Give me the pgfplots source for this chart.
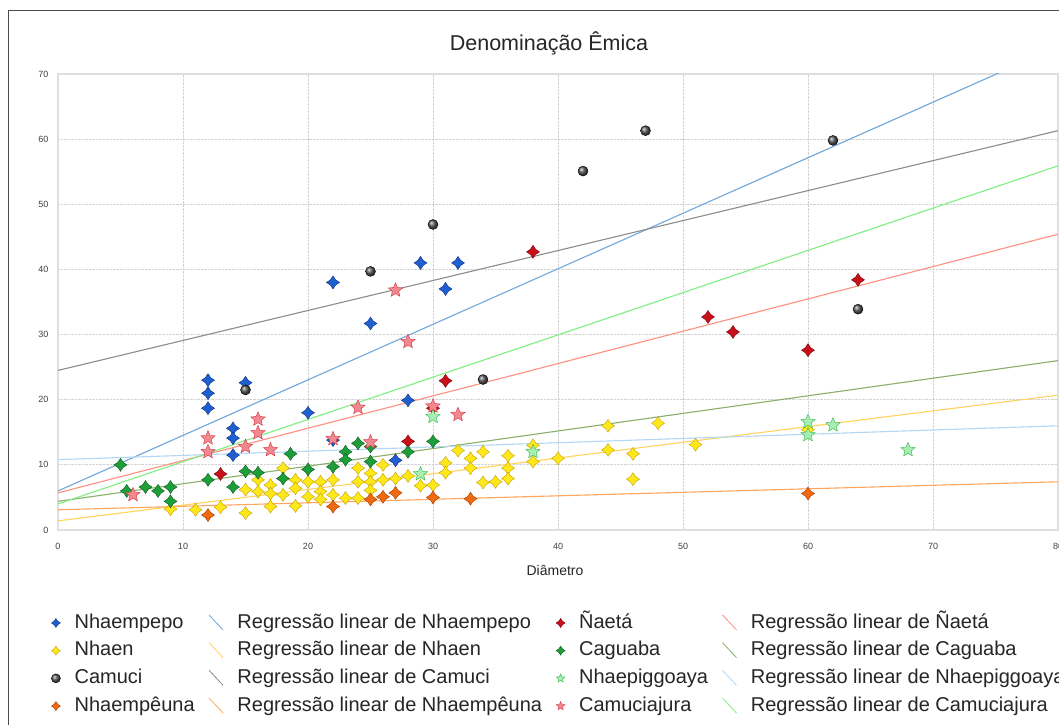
\documentclass[border=0pt]{standalone}
\usepackage{fontspec}
\setmainfont{Liberation Sans}
\usepackage{pgfplots}
\pgfplotsset{compat=1.18}
\usetikzlibrary{plotmarks}

\definecolor{cNp}{HTML}{1F5FD0}\definecolor{dNp}{HTML}{0A2F80}
\definecolor{cNa}{HTML}{C8101A}\definecolor{dNa}{HTML}{7A0008}
\definecolor{cNh}{HTML}{FFE81A}\definecolor{dNh}{HTML}{C8A000}
\definecolor{cCg}{HTML}{1E9E3A}\definecolor{dCg}{HTML}{0B5A1A}
\definecolor{cNg}{HTML}{A8EDB2}\definecolor{dNg}{HTML}{2FB84A}
\definecolor{cNu}{HTML}{F26A10}\definecolor{dNu}{HTML}{A03A00}
\definecolor{cCj}{HTML}{F08A90}\definecolor{dCj}{HTML}{D83040}
\definecolor{rNp}{HTML}{6FA8DC}
\definecolor{rNa}{HTML}{FF9080}
\definecolor{rNh}{HTML}{FFD35C}
\definecolor{rCg}{HTML}{8AAF6A}
\definecolor{rCm}{HTML}{8C8C8C}
\definecolor{rNg}{HTML}{B3D7F5}
\definecolor{rNu}{HTML}{FFA55C}
\definecolor{rCj}{HTML}{80EE80}

\pgfdeclareplotmark{fourstar}{%
  \pgfpathmoveto{\pgfqpoint{0pt}{\pgfplotmarksize}}%
  \pgfpathlineto{\pgfqpoint{0.4\pgfplotmarksize}{0.4\pgfplotmarksize}}%
  \pgfpathlineto{\pgfqpoint{\pgfplotmarksize}{0pt}}%
  \pgfpathlineto{\pgfqpoint{0.4\pgfplotmarksize}{-0.4\pgfplotmarksize}}%
  \pgfpathlineto{\pgfqpoint{0pt}{-\pgfplotmarksize}}%
  \pgfpathlineto{\pgfqpoint{-0.4\pgfplotmarksize}{-0.4\pgfplotmarksize}}%
  \pgfpathlineto{\pgfqpoint{-\pgfplotmarksize}{0pt}}%
  \pgfpathlineto{\pgfqpoint{-0.4\pgfplotmarksize}{0.4\pgfplotmarksize}}%
  \pgfpathclose
  \pgfusepathqfillstroke
}
\pgfdeclareplotmark{fivestar}{%
  \pgfpathmoveto{\pgfpointpolar{90}{\pgfplotmarksize}}%
  \pgfpathlineto{\pgfpointpolar{126}{0.45*\pgfplotmarksize}}%
  \pgfpathlineto{\pgfpointpolar{162}{\pgfplotmarksize}}%
  \pgfpathlineto{\pgfpointpolar{198}{0.45*\pgfplotmarksize}}%
  \pgfpathlineto{\pgfpointpolar{234}{\pgfplotmarksize}}%
  \pgfpathlineto{\pgfpointpolar{270}{0.45*\pgfplotmarksize}}%
  \pgfpathlineto{\pgfpointpolar{306}{\pgfplotmarksize}}%
  \pgfpathlineto{\pgfpointpolar{342}{0.45*\pgfplotmarksize}}%
  \pgfpathlineto{\pgfpointpolar{18}{\pgfplotmarksize}}%
  \pgfpathlineto{\pgfpointpolar{54}{0.45*\pgfplotmarksize}}%
  \pgfpathclose
  \pgfusepathqfillstroke
}

\pgfplotsset{
  regline/.style={no markers, line width=1.1pt,
    legend image code/.code={\draw[##1, line width=0.8pt] (0pt,8pt) -- (14pt,-7pt);}},
  dia/.style={only marks, mark=fourstar, mark size=6.5pt, mark options={line width=0.6pt}},
  stars/.style={only marks, mark=fivestar, mark size=7.5pt, mark options={line width=1pt}},
}

\begin{document}
\begin{tikzpicture}
\useasboundingbox (0,0) rectangle (1059pt,724pt);
\clip (0,0) rectangle (1059pt,724pt);
\fill[white] (0,0) rectangle (1059pt,724pt);
\draw[black!70, line width=1pt] (8pt,713pt) rectangle (1120pt,-40pt);
\begin{axis}[
  at={(58pt,194pt)}, anchor=south west,
  scale only axis, width=1000pt, height=456pt,
  xmin=0, xmax=80, ymin=0, ymax=70,
  xtick={0,10,...,80}, ytick={0,10,...,70},
  grid=major,
  major grid style={gray!35, densely dotted, line width=0.9pt},
  axis line style={gray!25, line width=1.5pt},
  tick style={draw=none},
  /pgf/number format/assume math mode=true,
  ticklabel style={font=\fontsize{9}{10}\selectfont, text=black!75},
  xticklabel style={anchor=base, yshift=-19pt},
  yticklabel style={xshift=-6pt},
  title={Denominação Êmica},
  title style={at={(0.491,1)}, anchor=base, yshift=17pt,
    font=\fontsize{21.5}{24}\selectfont, text=black!85},
  xlabel={Diâmetro},
  xlabel style={at={(0.497,0)}, anchor=base, yshift=-45pt,
    font=\fontsize{14}{16}\selectfont, text=black!85},
  legend columns=4,
  legend cell align=left,
  legend image post style={mark size=4.5pt},
  legend style={at={(-0.010,-0.1733)}, anchor=north west, draw=none, fill=none,
    font=\fontsize{20}{24}\selectfont, text=black!85,
    column sep=12pt, row sep=4.2pt, inner xsep=3pt, inner ysep=2pt,
    nodes={inner sep=2pt, text height=15pt, text depth=4.5pt}},
]
% regression lines (drawn first, below the markers)
\addplot[regline, draw=rNp, forget plot] coordinates {(0,6.0) (80,74.2)};
\addplot[regline, draw=rNa, forget plot] coordinates {(0,5.7) (80,45.4)};
\addplot[regline, draw=rNh, forget plot] coordinates {(0,1.4) (80,20.7)};
\addplot[regline, draw=rCg, forget plot] coordinates {(0,4.4) (80,26.0)};
\addplot[regline, draw=rCm, forget plot] coordinates {(0,24.5) (80,61.3)};
\addplot[regline, draw=rNg, forget plot] coordinates {(0,10.8) (80,16.0)};
\addplot[regline, draw=rNu, forget plot] coordinates {(0,3.1) (80,7.4)};
\addplot[regline, draw=rCj, forget plot] coordinates {(0,4.0) (80,55.9)};

% Nhaempepo
\addplot[dia, mark options={fill=cNp, draw=dNp}] coordinates {
(12,23) (12,21) (12,18.7) (14,15.6) (14,14.1) (14,11.5) (15,22.6)
(20,18) (22,13.8) (22,38) (25,31.7) (27,10.7) (28,19.9) (29,41) (31,37) (32,41)};
\addlegendentry{Nhaempepo}
\addlegendimage{regline, draw=rNp}
\addlegendentry{Regressão linear de Nhaempepo}
% Naeta
\addplot[dia, mark options={fill=cNa, draw=dNa}] coordinates {
(13,8.6) (28,13.6) (30,18.7) (31,22.9) (38,42.7) (52,32.7) (54,30.4) (60,27.6) (64,38.4)};
\addlegendentry{Ñaetá}
\addlegendimage{regline, draw=rNa}
\addlegendentry{Regressão linear de Ñaetá}
% Nhaen
\addplot[dia, mark options={fill=cNh, draw=dNh}] coordinates {
(9,3.2) (11,3.1) (13,3.5) (15,2.6) (15,6.2) (16,7.7) (16,5.9) (17,6.9) (17,5.6) (17,3.6)
(18,9.5) (18,5.4) (19,7.7) (19,6.4) (19,3.7) (20,7.4) (20,5.1) (21,7.4) (21,5.9) (21,4.7)
(22,7.7) (22,5.4) (23,4.9) (24,9.5) (24,7.4) (24,4.9) (25,8.7) (25,7.4) (25,6.1) (26,10)
(26,7.7) (27,7.9) (28,8.3) (29,6.8) (30,6.9) (31,10.3) (31,8.8) (32,12.2) (33,11) (33,9.5)
(34,12) (34,7.3) (35,7.4) (36,11.4) (36,9.5) (36,7.9) (38,13) (38,10.5) (40,11) (44,16)
(44,12.3) (46,11.7) (46,7.8) (48,16.4) (51,13.1) (60,15.4)};
\addlegendentry{Nhaen}
\addlegendimage{regline, draw=rNh}
\addlegendentry{Regressão linear de Nhaen}
% Caguaba
\addplot[dia, mark options={fill=cCg, draw=dCg}] coordinates {
(5,10) (5.5,6) (7,6.6) (8,6) (9,6.6) (9,4.4) (12,7.7) (14,6.6) (15,9) (16,8.8) (18,7.9)
(18.6,11.7) (20,9.3) (22,9.7) (23,12) (23,10.8) (24,13.3) (25,12.8) (25,10.5) (28,12) (30,13.6)};
\addlegendentry{Caguaba}
\addlegendimage{regline, draw=rCg}
\addlegendentry{Regressão linear de Caguaba}
% Camuci
\addplot[only marks, mark=ball, mark size=5pt, mark options={ball color=black!65}] coordinates {
(15,21.5) (25,39.7) (30,46.9) (34,23.1) (42,55.1) (47,61.3) (62,59.8) (64,33.9)};
\addlegendentry{Camuci}
\addlegendimage{regline, draw=rCm}
\addlegendentry{Regressão linear de Camuci}
% Nhaepiggoaya
\addplot[stars, mark options={fill=cNg, draw=dNg}] coordinates {
(29,8.6) (30,17.4) (38,12) (60,16.6) (60,14.6) (62,16.1) (68,12.3)};
\addlegendentry{Nhaepiggoaya}
\addlegendimage{regline, draw=rNg}
\addlegendentry{Regressão linear de Nhaepiggoaya}
% Nhaempeuna
\addplot[dia, mark options={fill=cNu, draw=dNu}] coordinates {
(12,2.3) (22,3.6) (25,4.7) (26,5.1) (27,5.7) (30,5) (33,4.8) (60,5.6)};
\addlegendentry{Nhaempêuna}
\addlegendimage{regline, draw=rNu}
\addlegendentry{Regressão linear de Nhaempêuna}
% Camuciajura
\addplot[stars, mark options={fill=cCj, draw=dCj}] coordinates {
(6,5.4) (12,14.1) (12,12) (15,12.8) (16,17) (16,14.9) (17,12.3) (22,14) (24,18.8)
(25,13.5) (27,36.8) (28,28.9) (30,19) (32,17.7)};
\addlegendentry{Camuciajura}
\addlegendimage{regline, draw=rCj}
\addlegendentry{Regressão linear de Camuciajura}
\end{axis}
\end{tikzpicture}
\end{document}
